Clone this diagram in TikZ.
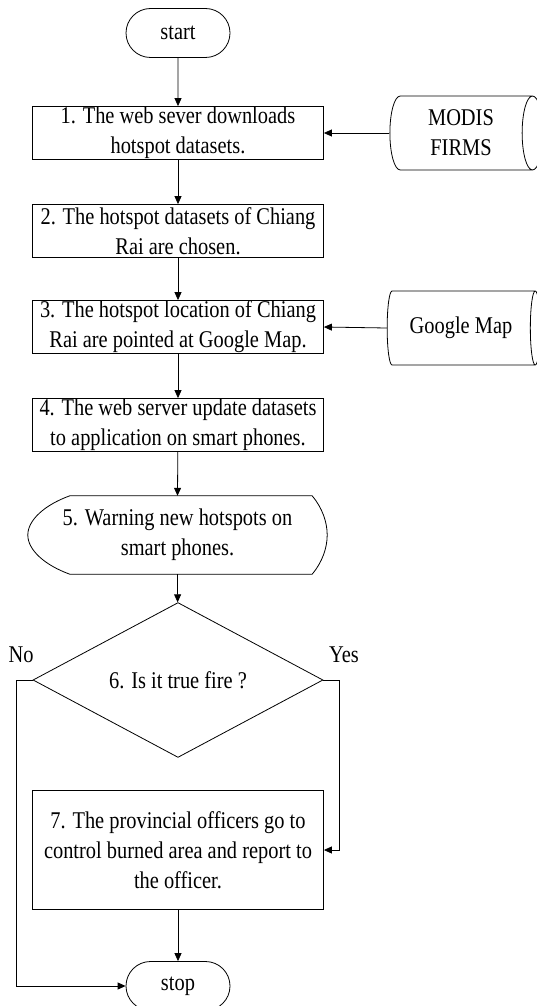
\documentclass[tikz,border=0pt]{standalone}
\usepackage{fontspec}
\setmainfont{Liberation Serif}[FakeStretch=0.85]
\usetikzlibrary{shapes.geometric, shapes.misc, arrows.meta, calc}

\newcommand{\flowfont}{\fontsize{24}{30}\selectfont}

\begin{document}
\begin{tikzpicture}[
  x=1pt, y=-1pt,
  termblock/.style={rounded rectangle, draw, line width=0.8pt,
                    minimum width=104pt, minimum height=49pt,
                    inner sep=0pt, font=\flowfont},
  procblock/.style={rectangle, draw, line width=0.8pt,
                    minimum width=291pt, minimum height=53pt, align=center,
                    inner sep=0pt, font=\flowfont},
  storeblock/.style={cylinder, draw, line width=0.8pt, aspect=0.45,
                     minimum width=74pt, minimum height=153pt, align=center,
                     inner sep=0pt, font=\flowfont},
  dispblock/.style={rectangle, minimum width=299pt, minimum height=78pt,
                    align=center, inner sep=0pt, font=\flowfont},
  decblock/.style={diamond, draw, line width=0.8pt,
                   minimum width=290pt, minimum height=121pt,
                   inner sep=0pt, font=\flowfont},
  arrow/.style={-{Triangle[length=8pt,width=7pt]}, line width=0.8pt},
  elbl/.style={inner sep=0pt, font=\flowfont}
]
\useasboundingbox (0,0) rectangle (537,1006);

% Terminal: start
\node[termblock] (start) at (178, 33) {start};

% Main column: process steps 1-4
\node[procblock] (s1) at (178, 133) {1. The web sever downloads\\hotspot datasets.};
\node[procblock] (s2) at (178, 231) {2. The hotspot datasets of Chiang\\Rai are chosen.};
\node[procblock] (s3) at (178, 327) {3. The hotspot location of Chiang\\Rai are pointed at Google Map.};
\node[procblock] (s4) at (178, 425) {4. The web server update datasets\\to application on smart phones.};

% Data sources on the right
\node[storeblock] (modis) at (461, 133) {MODIS\\FIRMS};
\node[storeblock] (gmap)  at (461, 328) {Google Map};

% Display: step 5 (outline drawn below)
\node[dispblock] (s5) at (177.5, 535) {5. Warning new hotspots on\\smart phones.};
\draw[line width=0.8pt]
  ($(s5.north east)+(-15,0)$) .. controls +(10,12) and +(0,-13) .. (s5.east)
  .. controls +(0,13) and +(10,-12) .. ($(s5.south east)+(-15,0)$)
  -- ($(s5.south west)+(42,0)$) .. controls +(-25,-9) and +(0,15) .. (s5.west)
  .. controls +(0,-15) and +(-25,9) .. ($(s5.north west)+(42,0)$) -- cycle;

% Decision: step 6
\node[decblock] (dec) at (178, 680) {6. Is it true fire ?};
\node[elbl] (lblno)  at (21, 655)  {No};
\node[elbl] (lblyes) at (344, 655) {Yes};

% Step 7 and terminal: stop
\node[procblock, minimum height=119pt] (s7) at (178, 850)
  {7. The provincial officers go to\\control burned area and report to\\the officer.};
\node[termblock] (stop) at (178, 986) {stop};

% --- Arrows ---
\draw[arrow] (start) -- (s1);
\draw[arrow] (s1) -- (s2);
\draw[arrow] (s2) -- (s3);
\draw[arrow] (s3) -- (s4);
\draw[arrow] (s4) -- (s5.north);
\draw[arrow] (s5.south) -- (dec);

% Data sources into steps 1 and 3
\draw[arrow] (modis.west) -- (s1.east);
\draw[arrow] (gmap.west) -- (s3.east);

% Yes: to step 7, No: straight to stop
\draw[arrow] (dec.east) -- ++(16,0) |- (s7.east);
\draw[arrow] (dec.west) -- ++(-16,0) |- (stop.west);

% Step 7 -> stop
\draw[arrow] (s7) -- (stop);

\end{tikzpicture}
\end{document}
